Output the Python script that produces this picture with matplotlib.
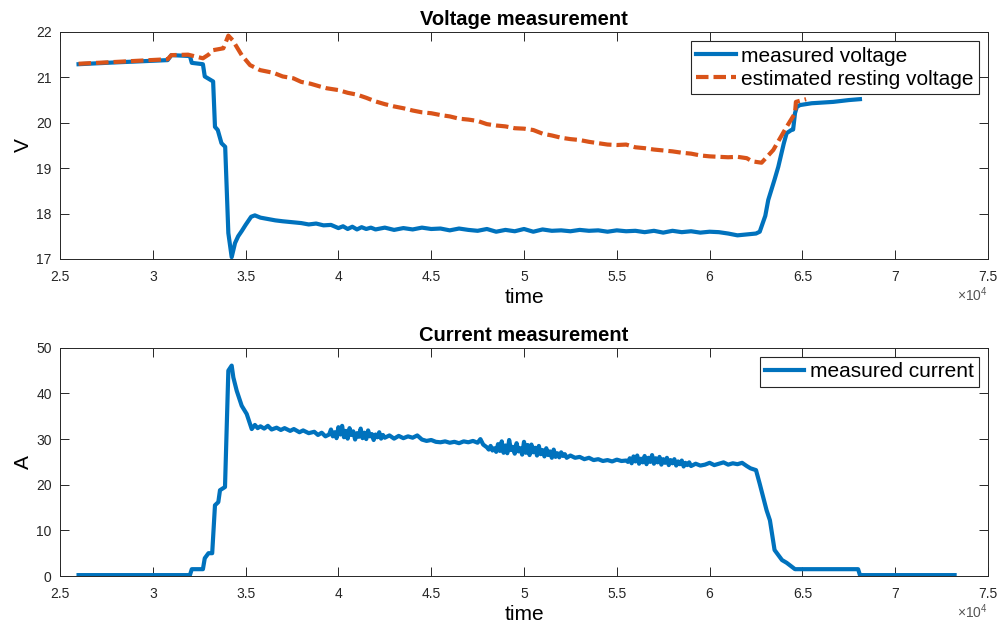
import numpy as np
import matplotlib
matplotlib.use("Agg")
import matplotlib.pyplot as plt
from matplotlib.ticker import FuncFormatter

plt.rcParams['font.family'] = ['Liberation Sans', 'DejaVu Sans']
plt.rcParams['mathtext.fontset'] = 'custom'
plt.rcParams['mathtext.rm'] = 'Liberation Sans'

# -------- data (time in s) --------
v_meas_t = [26000, 28000, 30800, 31000, 32000, 32100, 32700, 32800, 33250, 33350,
            33500, 33700, 33900, 34070, 34250, 34430, 34600, 34800, 35000, 35300,
            35500, 35800, 36200, 36600, 37000, 37500, 38000, 38400, 38800, 39200,
            39600, 40000, 40250, 40500, 40750, 41000, 41250, 41500, 41750, 42000,
            42500, 43000, 43500, 44000, 44500, 45000, 45500, 46000, 46500, 47000,
            47500, 48000, 48500, 49000, 49500, 50000, 50500, 51000, 51500, 52000,
            52500, 53000, 53500, 54000, 54500, 55000, 55500, 56000, 56500, 57000,
            57500, 58000, 58500, 59000, 59500, 60000, 60500, 61000, 61500, 62000,
            62500, 62700, 63000, 63160, 63500, 63700, 64000, 64150, 64400, 64500,
            64600, 64700, 64870, 65500, 66660, 67500, 68100]
v_meas = [21.29, 21.33, 21.38, 21.49, 21.47, 21.32, 21.29, 21.02, 20.91, 19.91,
          19.84, 19.55, 19.47, 17.57, 17.04, 17.35, 17.50, 17.62, 17.75, 17.93,
          17.96, 17.91, 17.88, 17.85, 17.83, 17.81, 17.79, 17.76, 17.78, 17.74,
          17.75, 17.68, 17.72, 17.66, 17.71, 17.65, 17.70, 17.66, 17.69, 17.65,
          17.69, 17.64, 17.68, 17.65, 17.69, 17.66, 17.67, 17.63, 17.67, 17.64,
          17.62, 17.66, 17.60, 17.64, 17.61, 17.66, 17.60, 17.65, 17.62, 17.63,
          17.61, 17.64, 17.62, 17.63, 17.60, 17.63, 17.61, 17.62, 17.59, 17.62,
          17.58, 17.62, 17.59, 17.61, 17.58, 17.60, 17.59, 17.56, 17.52, 17.54,
          17.56, 17.60, 17.95, 18.30, 18.75, 19.03, 19.55, 19.77, 19.84, 19.85,
          20.21, 20.35, 20.39, 20.43, 20.46, 20.50, 20.52]

v_rest_t = [26000, 28000, 30800, 31000, 31900, 32700, 33000, 33260, 33800, 34070,
            34300, 34790, 35240, 35780, 36500, 37000, 37570, 38000, 38500, 39000,
            39370, 40000, 40500, 41000, 41500, 42000, 42500, 43000, 43500, 44000,
            44500, 45000, 45500, 46000, 46500, 47000, 47500, 48000, 48500, 49000,
            49500, 50000, 50500, 51000, 51500, 52000, 52500, 53000, 53500, 54000,
            54500, 55000, 55500, 56000, 56500, 57000, 57500, 58000, 58500, 59000,
            59500, 60000, 60500, 61000, 61500, 62000, 62300, 62800, 63430, 64150,
            64600, 64650, 65200]
v_rest = [21.30, 21.34, 21.40, 21.49, 21.50, 21.42, 21.50, 21.60, 21.64, 21.92,
          21.82, 21.49, 21.27, 21.16, 21.10, 21.02, 20.98, 20.90, 20.86, 20.80,
          20.76, 20.72, 20.66, 20.62, 20.55, 20.47, 20.41, 20.36, 20.32, 20.27,
          20.23, 20.21, 20.17, 20.14, 20.09, 20.07, 20.04, 19.97, 19.94, 19.92,
          19.88, 19.87, 19.84, 19.76, 19.72, 19.67, 19.64, 19.62, 19.58, 19.55,
          19.52, 19.51, 19.52, 19.46, 19.44, 19.41, 19.39, 19.37, 19.34, 19.32,
          19.28, 19.26, 19.25, 19.24, 19.25, 19.22, 19.15, 19.12, 19.40, 19.91,
          20.21, 20.46, 20.52]

i_meas_t = [26000, 32000, 32100, 32700, 32800, 33000, 33200, 33350, 33530, 33620,
            33890, 34070, 34250, 34340, 34520, 34790, 35060,
            35330, 35500, 35650, 35800, 36000, 36200, 36400, 36670, 36900, 37100,
            37400, 37600, 37900, 38100, 38400, 38700, 38900, 39100, 39300,
            39500, 39600, 39700, 39800, 39900, 40000, 40100, 40200, 40300, 40400,
            40500, 40600, 40700, 40800, 40900, 41000, 41100, 41200, 41300, 41400,
            41500, 41600, 41700, 41800, 41900, 42000, 42100, 42200, 42300, 42400,
            42500, 42750, 43000, 43250, 43500, 43750, 44000, 44250, 44500, 44750,
            45000, 45250, 45500, 45750, 46000, 46250, 46500, 46750, 47000, 47250,
            47500, 47650, 47800,
            48000, 48100, 48200, 48300, 48400, 48500, 48600, 48700, 48800, 48900,
            49000, 49100, 49200, 49300, 49400, 49500, 49600, 49700, 49800, 49900,
            50000, 50100, 50200, 50300, 50400, 50500, 50600, 50700, 50800, 50900,
            51000, 51100, 51200, 51300, 51400, 51500, 51600, 51700, 51800, 51900,
            52000, 52100, 52200, 52300,
            52500, 52750, 53000, 53250, 53500, 53750, 54000, 54250, 54500, 54750,
            55000, 55250, 55500,
            55600, 55700, 55800, 55900, 56000, 56100, 56200, 56300, 56400, 56500,
            56600, 56700, 56800, 56900, 57000, 57100, 57200, 57300, 57400, 57500,
            57600, 57700, 57800, 57900, 58000, 58100, 58200, 58300, 58400, 58500,
            58600, 58700, 58800, 58900, 59000,
            59250, 59500, 59750, 60000, 60250, 60500, 60750, 61000, 61250, 61500,
            61750, 62000, 62200, 62500,
            62700, 63070, 63250, 63500, 63900, 64150, 64500, 64600, 64690, 68000,
            68100, 73200]
i_meas = [0.2, 0.2, 1.5, 1.5, 3.9, 5.0, 5.0, 15.5, 16.2, 18.8,
          19.5, 45.0, 46.1, 43.5, 40.6, 37.3, 35.5,
          32.2, 33.1, 32.4, 32.8, 32.3, 32.9, 32.1, 32.5, 32.0, 32.4,
          31.8, 32.2, 31.5, 31.9, 31.3, 31.6, 30.9, 31.4, 30.6,
          31.0, 32.1, 30.6, 31.5, 30.2, 32.6, 31.0, 32.9, 30.4, 31.8,
          30.1, 32.4, 30.9, 31.7, 29.9, 31.3, 30.5, 32.3, 30.2, 31.4,
          30.0, 31.9, 30.6, 31.1, 29.8, 31.0, 30.4, 31.5, 30.1, 30.9,
          30.3, 30.8, 30.1, 30.7, 30.2, 30.6, 30.3, 30.8, 29.9, 29.6,
          29.8, 29.4, 29.3, 29.5, 29.2, 29.4, 29.1, 29.5, 29.3, 29.6,
          29.2, 30.0, 28.8,
          28.2, 27.7, 28.5, 27.5, 28.0, 27.2, 28.9, 27.4, 29.5, 27.0,
          28.6, 26.9, 29.8, 27.6, 28.3, 26.8, 29.1, 27.3, 28.0, 26.6,
          29.4, 27.0, 28.7, 26.5, 28.8, 27.1, 28.1, 26.4, 28.5, 26.7,
          27.6, 26.2, 28.0, 26.5, 27.3, 25.9, 27.7, 26.1, 26.9, 26.0,
          27.1, 26.3, 26.7, 25.9,
          26.4, 25.9, 26.1, 25.6, 25.9, 25.4, 25.6, 25.2, 25.4, 25.1,
          25.5, 25.2, 25.3,
          25.0, 25.8, 24.7, 26.2, 25.1, 26.4, 24.6, 25.7, 24.9, 26.3,
          24.5, 25.9, 25.0, 26.5, 24.6, 25.8, 24.9, 26.1, 24.4, 25.6,
          24.8, 25.9, 24.3, 25.4, 24.7, 25.6, 24.2, 25.1, 24.5, 25.3,
          24.0, 24.8, 24.3, 24.9, 24.1,
          24.6, 24.2, 24.4, 24.8, 24.3, 24.6, 24.9, 24.4, 24.7, 24.5,
          24.8, 24.1, 23.6, 23.2,
          20.2, 14.4, 12.2, 5.7, 3.5, 2.9, 1.8, 1.5, 1.5, 1.5,
          0.2, 0.2]

blue = '#0072BD'
orange = '#D95319'
axcol = '#262626'

fig = plt.figure(figsize=(10.05, 6.27), dpi=100)
ax1 = fig.add_axes([0.0597, 0.587, 0.9234, 0.362])
ax2 = fig.add_axes([0.0597, 0.0813, 0.9234, 0.364])

ax1.plot(v_meas_t, v_meas, color=blue, lw=3, label='measured voltage')
ax1.plot(v_rest_t, v_rest, color=orange, lw=3, dashes=(3.0, 1.2), label='estimated resting voltage')
ax1.set_ylim(17, 22)
ax1.set_title('Voltage measurement', fontsize=14.5, fontweight='bold', pad=5)
ax1.set_ylabel('V', fontsize=15, labelpad=2)

ax2.plot(i_meas_t, i_meas, color=blue, lw=3, label='measured current')
ax2.set_ylim(0, 50)
ax2.set_yticks(np.arange(0, 51, 10))
ax2.set_title('Current measurement', fontsize=14.5, fontweight='bold', pad=5)
ax2.set_ylabel('A', fontsize=15, labelpad=2)

for ax in (ax1, ax2):
    ax.set_xlim(25000, 75000)
    ax.set_xticks(np.arange(25000, 75001, 5000))
    ax.xaxis.set_major_formatter(FuncFormatter(lambda v, p: f'{v / 1e4:g}'))
    ax.set_xlabel('time', fontsize=15, labelpad=3)
    ax.tick_params(direction='in', length=6.5, width=0.7, top=True, right=True,
                   labelsize=10, colors=axcol)
    ax.tick_params(axis='x', pad=8)
    ax.tick_params(axis='y', pad=6)
    for s in ax.spines.values():
        s.set_color(axcol)
        s.set_linewidth(0.7)
    ax.annotate(r'$\times10^{4}$', xy=(1.0, 0.0), xycoords='axes fraction',
                xytext=(0, -26), textcoords='offset points', ha='right', va='center',
                fontsize=10, color='#555555')
    leg = ax.legend(loc='upper right', fontsize=15, fancybox=False, framealpha=1,
                    edgecolor=axcol, borderaxespad=0.45, handlelength=1.9,
                    borderpad=0.25, labelspacing=0.2, handletextpad=0.25)
    leg.get_frame().set_linewidth(0.8)

fig.savefig('out.png', dpi=100)
